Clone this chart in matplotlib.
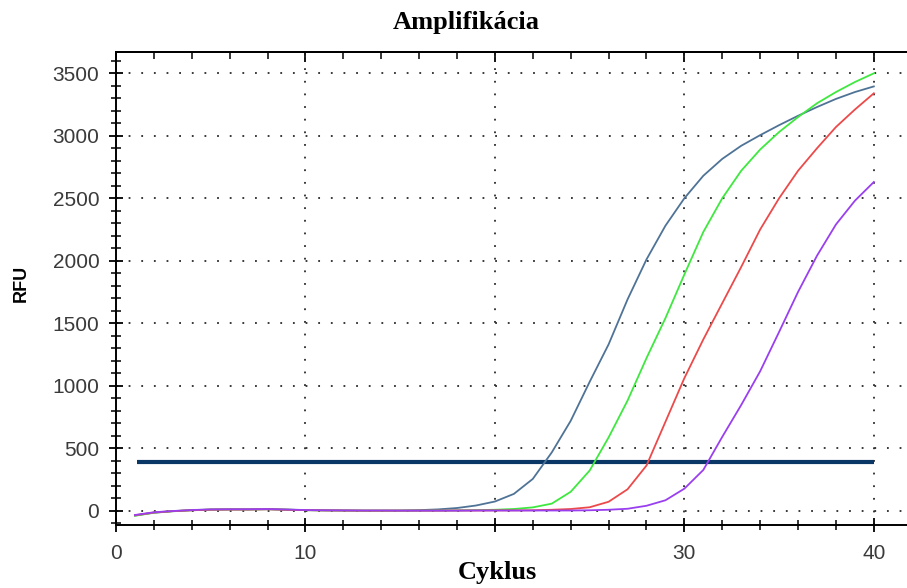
import matplotlib as mpl
mpl.use("Agg")
import matplotlib.pyplot as plt
from matplotlib.ticker import MultipleLocator, FixedLocator, FixedFormatter, NullFormatter

#
# --- qPCR amplification data: RFU per cycle for four samples
#
cycles = list(range(1, 41))

rfu_blue = [-40, -18, -6, 2, 7, 9, 9, 10, 7, 3,
            1, 0, -1, -1, 0, 3, 9, 20, 40, 72,
            133, 253, 465, 718, 1030, 1330, 1690, 2010, 2280, 2500,
            2680, 2815, 2920, 3005, 3085, 3160, 3230, 3295, 3350, 3395]

rfu_green = [-42, -17, -5, 3, 8, 9, 8, 11, 7, 3,
             1, 0, -1, -1, -1, -1, 0, 1, 3, 6,
             12, 25, 55, 150, 320, 585, 880, 1220, 1540, 1890,
             2230, 2500, 2720, 2890, 3030, 3150, 3260, 3350, 3430, 3500]

rfu_red = [-38, -16, -5, 2, 7, 8, 8, 10, 6, 3,
           1, 0, -1, -1, -1, -1, -1, 0, 0, 1,
           1, 2, 6, 12, 26, 70, 170, 360, 710, 1060,
           1370, 1660, 1950, 2250, 2500, 2720, 2900, 3070, 3210, 3340]

rfu_purple = [-36, -14, -4, 4, 9, 10, 10, 12, 8, 4,
              2, 1, 0, 0, -1, -1, -1, -1, 0, 0,
              0, 0, 0, 0, 2, 6, 14, 38, 82, 175,
              325, 590, 845, 1115, 1430, 1750, 2040, 2290, 2480, 2630]

threshold = 390
threshold_span = (1.1, 40)

series = [
    (rfu_blue, "#4f7396"),
    (rfu_green, "#3fe83f"),
    (rfu_red, "#ec4a4a"),
    (rfu_purple, "#9a3ff0"),
]

x_major = [0, 10, 20, 30, 40]
x_labels = ["0", "10", "", "30", "40"]
y_major = [0, 500, 1000, 1500, 2000, 2500, 3000, 3500]

fig = plt.figure(figsize=(9.07, 5.88), dpi=100)
ax = fig.add_axes([116 / 907, 63 / 588, 791 / 907, 473.3 / 588])

#
# --- grid first so the curves sit on top
#
for x in x_major[1:]:
    ax.axvline(x, color="#2a2a2a", lw=1.3, linestyle=(0, (1, 6)), zorder=1)
for y in y_major:
    ax.axhline(y, color="#2a2a2a", lw=1.3, linestyle=(0, (1, 6)), zorder=1)

ax.hlines(threshold, threshold_span[0], threshold_span[1],
          color="#0b3766", lw=3.0, zorder=3)

for vals, col in series:
    ax.plot(cycles, vals, color=col, lw=1.3, zorder=4)

ax.set_xlim(0, 41.75)
ax.set_ylim(-116, 3673)

ax.xaxis.set_major_locator(FixedLocator(x_major))
ax.xaxis.set_major_formatter(FixedFormatter(x_labels))
ax.xaxis.set_minor_locator(MultipleLocator(2))
ax.yaxis.set_major_locator(FixedLocator(y_major))
ax.yaxis.set_minor_locator(MultipleLocator(100))

ax.tick_params(axis="both", which="major", direction="inout", length=10,
               width=1.3, color="black", labelsize=15, labelcolor="#3a3a3a")
ax.tick_params(axis="both", which="minor", direction="inout", length=7,
               width=1.1, color="black")
ax.tick_params(axis="y", which="major", pad=7)
ax.tick_params(axis="x", which="major", pad=9)

#
# --- top edge: inward ticks only, no labels
#
top = ax.secondary_xaxis("top")
top.xaxis.set_major_locator(FixedLocator(x_major))
top.xaxis.set_minor_locator(MultipleLocator(2))
top.xaxis.set_major_formatter(NullFormatter())
top.tick_params(which="major", direction="in", length=7, width=1.3)
top.tick_params(which="minor", direction="in", length=5, width=1.1)
top.spines["top"].set_linewidth(1.4)

for side in ["left", "bottom", "top"]:
    ax.spines[side].set_linewidth(1.4)
ax.spines["right"].set_visible(False)

for lab in ax.get_xticklabels() + ax.get_yticklabels():
    lab.set_family("Liberation Sans")

fig.text(466 / 907, 1 - 22 / 588, "Amplifikácia", ha="center", va="center",
         family="Liberation Serif", weight="bold", fontsize=19)
fig.text(497 / 907, 1 - 573 / 588, "Cyklus", ha="center", va="center",
         family="Liberation Serif", weight="bold", fontsize=19)
fig.text(21 / 907, 1 - 283 / 588, "RFU", ha="center", va="center",
         rotation=90, family="Liberation Sans", weight="bold", fontsize=13)

fig.savefig("out.png", dpi=100)
